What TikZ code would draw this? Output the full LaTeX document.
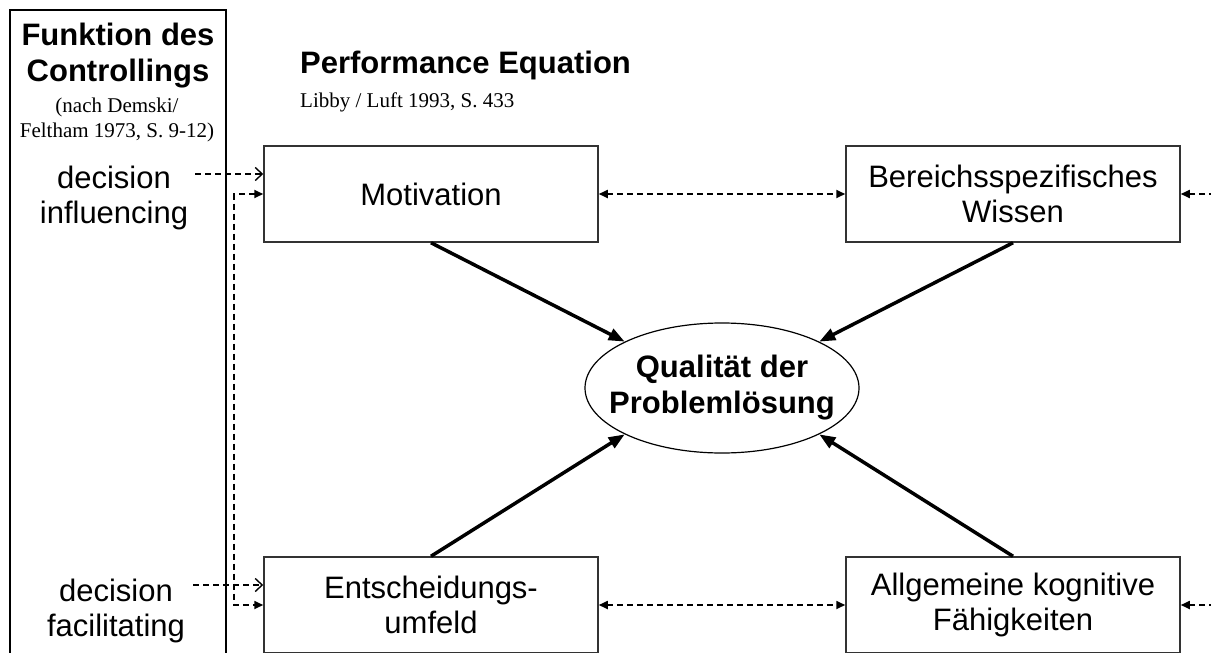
\documentclass[tikz,border=0pt]{standalone}
\usepackage{fontspec}
\setmainfont{Liberation Serif}
\setsansfont{Liberation Sans}
\usetikzlibrary{arrows.meta,shapes.geometric}

\begin{document}
\begin{tikzpicture}[x=1pt,y=-1pt,
  big/.style={font=\sffamily\fontsize{31}{35}\selectfont},
  bigbold/.style={font=\sffamily\bfseries\fontsize{31}{36}\selectfont},
  small/.style={font=\rmfamily\fontsize{21}{25}\selectfont},
  box/.style={draw=black!80,line width=1.5pt,minimum width=334pt,minimum height=96pt,align=center,inner sep=0pt,big},
  push/.style={line width=3.5pt,-{Triangle[length=16pt,width=12pt]}},
  link/.style={line width=1.7pt,dash pattern=on 6pt off 4pt,{Triangle[length=9pt,width=8pt]}-{Triangle[length=9pt,width=8pt]}},
  feed/.style={line width=1.7pt,dash pattern=on 6pt off 4pt,-{Triangle[length=9pt,width=8pt]}},
  hint/.style={line width=1.4pt,dash pattern=on 6pt off 4pt,-{Straight Barb[length=7pt,width=13pt]}}]
\clip (0,0) rectangle (1211,653);

\draw[line width=2.5pt] (10,660) -- (10,10) -- (226,10) -- (226,660);
\node[bigbold,align=center] (fkt) at (118,56) {Funktion des\\Controllings};
\node[small,align=center] (src) at (117,120) {(nach Demski/\\Feltham 1973, S. 9-12)};
\node[big,align=center] (infl) at (114,198) {decision\\influencing};
\node[big,align=center] (faci) at (116,611) {decision\\facilitating};

\node[bigbold,anchor=base west,inner sep=0pt] (title) at (300,73) {Performance Equation};
\node[small,anchor=base west,inner sep=0pt] (ref) at (300,107) {Libby / Luft 1993, S. 433};

\node[box] (mot) at (431,194) {Motivation};
\node[box] (wis) at (1013,194) {Bereichsspezifisches\\Wissen};
\node[box] (umf) at (431,605) {Entscheidungs-\\umfeld};
\node[box] (fae) at (1013,605) {Allgemeine kognitive\\F\"ahigkeiten};
\node[ellipse,draw,line width=1.2pt,minimum width=274pt,minimum height=130pt,inner xsep=-17pt,inner ysep=0pt,align=center,bigbold] (qual) at (722,388) {Qualit\"at der\\Probleml\"osung};

\coordinate (ia) at (195,174);
\coordinate (fa) at (193,585);
\coordinate (wr) at (1215,194);
\coordinate (fr) at (1215,605);

\draw[hint] (ia) -- ([yshift=20pt]mot.west);
\draw[hint] (fa) -- ([yshift=20pt]umf.west);
\draw[link] (mot.west) -- ++(-29,0) |- (umf.west);
\draw[link] (mot.east) -- (wis.west);
\draw[link] (umf.east) -- (fae.west);
\draw[feed] (wr) -- (wis.east);
\draw[feed] (fr) -- (fae.east);

\draw[push] (mot.south) -- (qual.north west);
\draw[push] (wis.south) -- (qual.north east);
\draw[push] (umf.north) -- (qual.south west);
\draw[push] (fae.north) -- (qual.south east);
\end{tikzpicture}
\end{document}
